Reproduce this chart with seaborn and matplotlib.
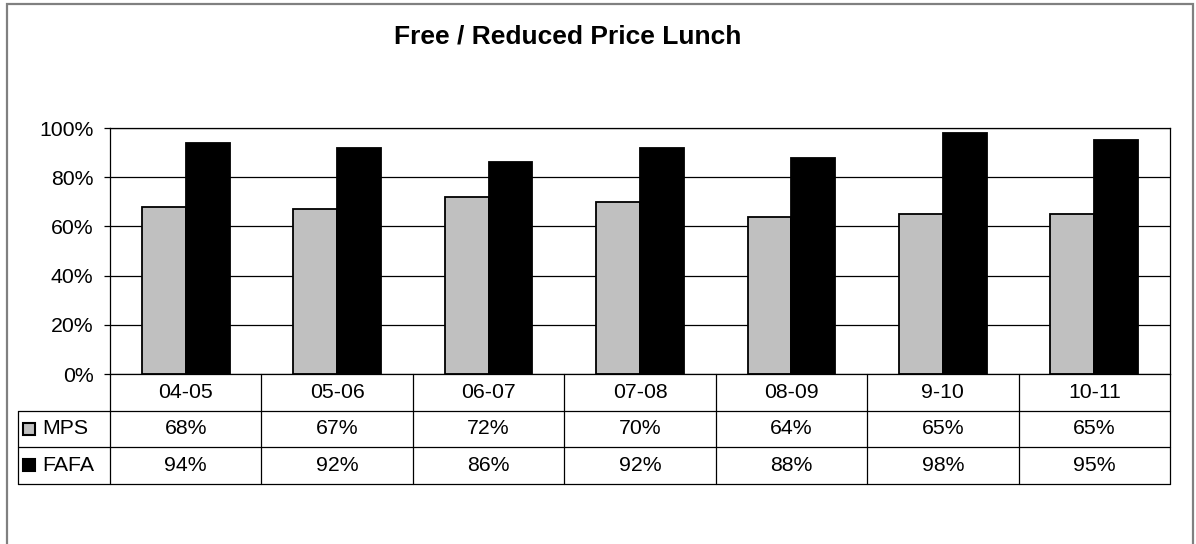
import matplotlib
matplotlib.use("Agg")
import matplotlib.pyplot as plt
import matplotlib.patches as mpatches
import matplotlib.ticker as mticker
import pandas as pd
import seaborn as sns

years = ['04-05', '05-06', '06-07', '07-08', '08-09', '9-10', '10-11']
mps = [68, 67, 72, 70, 64, 65, 65]
fafa = [94, 92, 86, 92, 88, 98, 95]
series = ['MPS', 'FAFA']
colors = ['#C0C0C0', '#000000']

df = pd.DataFrame({
    'year': years * 2,
    'school': ['MPS'] * len(years) + ['FAFA'] * len(years),
    'value': [v / 100 for v in mps + fafa],
})

sns.set_style("white")
plt.rcParams['font.family'] = ['Liberation Sans', 'DejaVu Sans']
plt.rcParams['text.color'] = 'black'
plt.rcParams['ytick.color'] = 'black'
plt.rcParams['ytick.labelcolor'] = 'black'

FS = 15.3
W, H = 1196, 544
fig = plt.figure(figsize=(W / 100, H / 100), dpi=100)

# outer gray chart frame
fig.patches.append(mpatches.Rectangle((7 / W, -0.05), (1193 - 7) / W, (H - 4) / H + 0.05,
                                      transform=fig.transFigure, fill=False,
                                      edgecolor='#808080', linewidth=1.6))

# plot area in pixel positions
left, right, top, bottom = 110, 1170, 128, 374
ax = fig.add_axes([left / W, 1 - bottom / H, (right - left) / W, (bottom - top) / H])

sns.barplot(data=df, x='year', y='value', hue='school', hue_order=series,
            palette=colors, width=0.58, edgecolor='black', linewidth=1.3,
            legend=False, ax=ax)

ax.set_xlim(-0.5, len(years) - 0.5)
ax.set_ylim(0, 1)
ax.set_yticks([0, 0.2, 0.4, 0.6, 0.8, 1.0])
ax.yaxis.set_major_formatter(mticker.PercentFormatter(1.0, decimals=0))
ax.yaxis.grid(True, color='black', linewidth=0.9)
ax.set_axisbelow(True)
ax.set_xticks([])
ax.set_xlabel('')
ax.set_ylabel('')
ax.tick_params(axis='y', direction='out', length=4.3, width=0.9, pad=7.5,
               labelsize=FS, color='black', labelcolor='black', left=True)
for sp in ax.spines.values():
    sp.set_color('black')
    sp.set_linewidth(0.9)

# data table below the axis
row_h = 36.5 / (bottom - top)
leg_x = (18 - left) / (right - left)
tr = ax.get_xaxis_transform()
line_kw = dict(color='black', linewidth=0.9, clip_on=False)

# horizontal lines
for k in range(1, 4):
    y = -k * row_h
    ax.plot([leg_x, 1], [y, y], transform=ax.transAxes, **line_kw)
# vertical lines
for i in range(len(years) + 1):
    ax.plot([i - 0.5, i - 0.5], [0, -3 * row_h], transform=tr, **line_kw)
ax.plot([leg_x, leg_x], [-row_h, -3 * row_h], transform=ax.transAxes, **line_kw)

for i, yr in enumerate(years):
    ax.text(i, -0.5 * row_h, yr, transform=tr, ha='center', va='center',
            fontsize=FS, clip_on=False)
    ax.text(i, -1.5 * row_h, f'{mps[i]}%', transform=tr, ha='center', va='center',
            fontsize=FS, clip_on=False)
    ax.text(i, -2.5 * row_h, f'{fafa[i]}%', transform=tr, ha='center', va='center',
            fontsize=FS, clip_on=False)

# legend keys in the table
px = 1 / (right - left)
py = 1 / (bottom - top)
for r, (name, col) in enumerate(zip(series, colors)):
    yc = -(1.5 + r) * row_h
    ax.add_patch(mpatches.Rectangle((leg_x + 5 * px, yc - 6 * py), 12 * px, 12 * py,
                                    transform=ax.transAxes, facecolor=col,
                                    edgecolor='black', linewidth=1.5, clip_on=False))
    ax.text(leg_x + 24 * px, yc, name, transform=ax.transAxes, ha='left', va='center',
            fontsize=FS, clip_on=False)

fig.text(568 / W, 1 - 36 / H, 'Free / Reduced Price Lunch', ha='center', va='center',
         fontsize=19, fontweight='bold')

fig.savefig('out.png', dpi=100, facecolor='white')
